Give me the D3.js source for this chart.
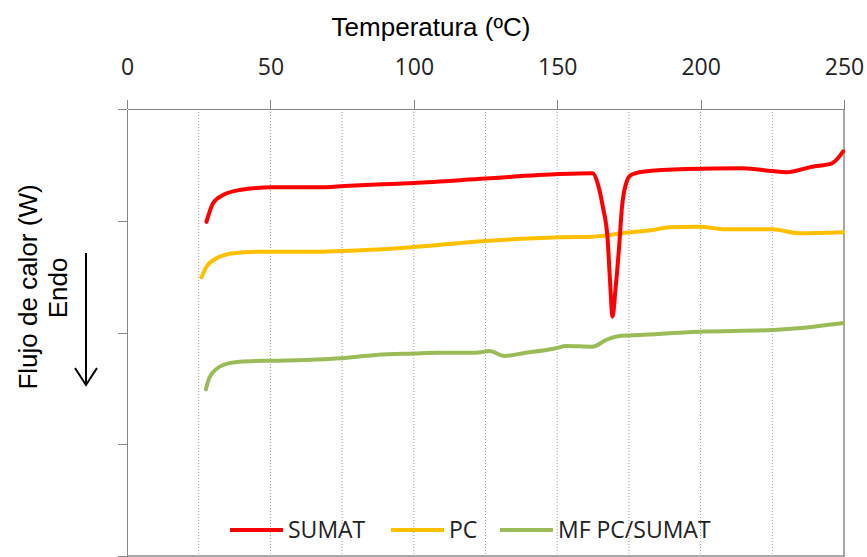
<!DOCTYPE html>
<html>
<head>
<meta charset="utf-8">
<script src="https://cdn.jsdelivr.net/npm/d3@7"></script>
<style>
  body { margin: 0; background: #fff; }
  svg { display: block; }
  .axis path, .axis line { stroke: #868686; }
  .x.axis text { font-family: "Open Sans", sans-serif; font-size: 23px; fill: #222; }
  .title { font-family: "Liberation Sans", Arial, sans-serif; font-size: 26px; fill: #000; }
  .legend text { font-family: "Open Sans", sans-serif; font-size: 23px; fill: #222; }
</style>
</head>
<body>
<div class="chart"></div>
<script>
// temperature (ºC) and heat flow (arbitrary units)
var sumatT = [27.7, 30, 33.5, 39.3, 50.8, 66, 77.6, 89, 100, 125, 150.8, 162.4, 164.1, 165.9, 167.6, 168.4, 169.3, 170.3, 171.5, 172.6, 173.7, 175.7, 179.8, 195, 214.5, 225, 229.8, 238.9, 245.8, 249.7];
var sumatQ = [2.99, 3.156, 3.23, 3.275, 3.299, 3.299, 3.314, 3.326, 3.338, 3.378, 3.418, 3.425, 3.335, 3.126, 2.828, 2.47, 2.142, 2.38, 2.738, 3.126, 3.305, 3.409, 3.439, 3.463, 3.469, 3.445, 3.434, 3.484, 3.514, 3.62];

var pcT = [26, 27.7, 31.2, 37, 45, 66, 77.6, 90.4, 100, 125, 150.8, 162.4, 174, 183.2, 189, 199.5, 208.8, 225, 234.3, 249.7];
var pcQ = [2.494, 2.589, 2.664, 2.709, 2.723, 2.723, 2.732, 2.747, 2.765, 2.819, 2.852, 2.857, 2.893, 2.917, 2.941, 2.947, 2.924, 2.924, 2.888, 2.897];

var mfT = [27.5, 28.9, 33.5, 39.3, 51, 62.5, 74.2, 86.9, 100, 109, 121.7, 126.4, 131.6, 138, 149.6, 153, 162.4, 167, 171.7, 178.6, 199.5, 225, 234, 249.7];
var mfQ = [1.492, 1.604, 1.709, 1.739, 1.748, 1.754, 1.769, 1.799, 1.812, 1.819, 1.819, 1.834, 1.79, 1.814, 1.859, 1.879, 1.873, 1.933, 1.969, 1.978, 2.007, 2.022, 2.038, 2.085];

var seriesNames = ["SUMAT", "PC", "MF PC/SUMAT"];
var seriesColors = ["#ff0000", "#ffc000", "#9bbb59"];
var xTicks = [0, 50, 100, 150, 200, 250];
var gridTicks = [25, 50, 75, 100, 125, 150, 175, 200, 225];
var yTicks = [0, 1, 2, 3, 4];

var dim = { width: 867, height: 557, left: 127, right: 844, top: 109, bottom: 556 };

var x = d3.scaleLinear().domain([0, 250]).range([dim.left, dim.right]);
var y = d3.scaleLinear().domain([0, 4]).range([dim.bottom, dim.top]);

var svg = d3.select(".chart").append("svg")
    .attr("width", dim.width)
    .attr("height", dim.height);

// dotted vertical gridlines
svg.append("g").selectAll("line").data(gridTicks).enter().append("line")
    .attr("x1", function(d) { return x(d); })
    .attr("x2", function(d) { return x(d); })
    .attr("y1", dim.top)
    .attr("y2", dim.bottom)
    .attr("stroke", "#9a9a9a")
    .attr("stroke-width", 1)
    .attr("stroke-dasharray", "1,2");

// right and bottom frame
svg.append("path")
    .attr("d", "M" + dim.right + "," + dim.top + "V" + dim.bottom + "H" + dim.left)
    .attr("fill", "none")
    .attr("stroke", "#8c8c8c")
    .attr("stroke-width", 1.5);

var xAxis = d3.axisTop(x).tickValues(xTicks).tickSize(9).tickSizeOuter(0).tickPadding(25);
svg.append("g")
    .attr("class", "x axis")
    .attr("transform", "translate(0," + dim.top + ")")
    .call(xAxis);

var yAxis = d3.axisLeft(y).tickValues(yTicks).tickSize(9).tickSizeOuter(0).tickFormat("");
svg.append("g")
    .attr("class", "y axis")
    .attr("transform", "translate(" + dim.left + ",0)")
    .call(yAxis);

svg.selectAll(".axis path, .axis line").attr("shape-rendering", "crispEdges");

svg.append("text")
    .attr("class", "title")
    .attr("x", 431)
    .attr("y", 36)
    .attr("text-anchor", "middle")
    .text("Temperatura (ºC)");

svg.append("text")
    .attr("class", "title")
    .attr("transform", "translate(37,287) rotate(-90)")
    .attr("text-anchor", "middle")
    .text("Flujo de calor (W)");

svg.append("text")
    .attr("class", "title")
    .attr("transform", "translate(67,288) rotate(-90)")
    .attr("text-anchor", "middle")
    .text("Endo");

// Endo arrow
svg.append("path")
    .attr("d", "M86,253V385M75,368L86,385L97,368")
    .attr("fill", "none")
    .attr("stroke", "#000")
    .attr("stroke-width", 2);

var line = d3.line()
    .x(function(d) { return x(d[0]); })
    .y(function(d) { return y(d[1]); })
    .curve(d3.curveMonotoneX);

var series = [
    d3.zip(sumatT, sumatQ),
    d3.zip(pcT, pcQ),
    d3.zip(mfT, mfQ)
];

// draw MF first so red is on top like the original
[2, 1, 0].forEach(function(i) {
    svg.append("path")
        .datum(series[i])
        .attr("d", line)
        .attr("fill", "none")
        .attr("stroke", seriesColors[i])
        .attr("stroke-width", 4)
        .attr("stroke-linejoin", "round")
        .attr("stroke-linecap", "round");
});

var legendX = [230, 391, 500];
var legend = svg.append("g").attr("class", "legend");
seriesNames.forEach(function(name, i) {
    legend.append("line")
        .attr("x1", legendX[i]).attr("x2", legendX[i] + 53)
        .attr("y1", 530).attr("y2", 530)
        .attr("stroke", seriesColors[i])
        .attr("stroke-width", 4);
    legend.append("text")
        .attr("x", legendX[i] + 58)
        .attr("y", 538)
        .text(name);
});
</script>
</body>
</html>
